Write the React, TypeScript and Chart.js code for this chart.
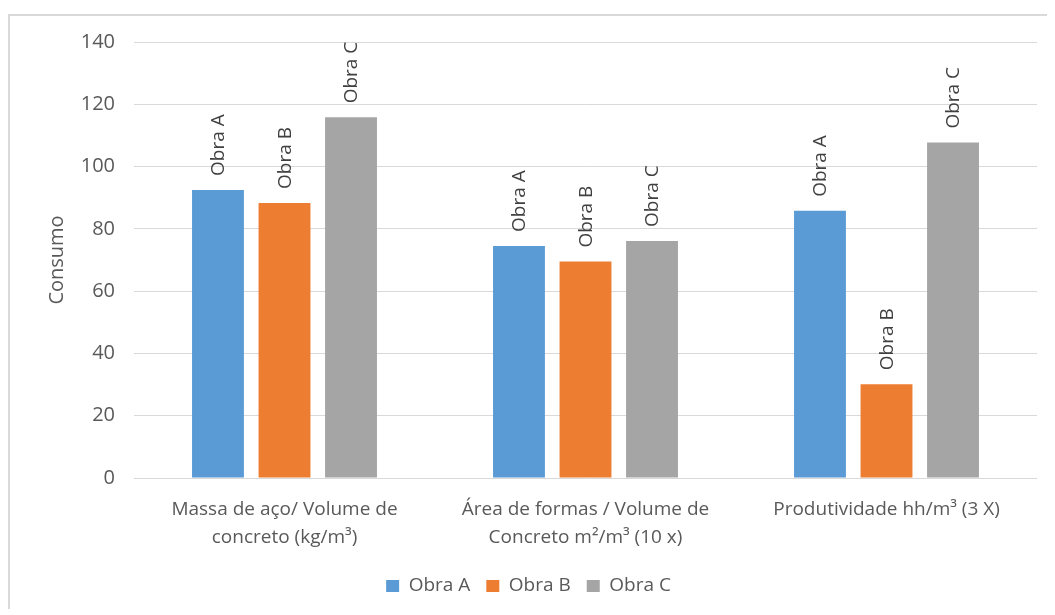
import React, { useEffect, useRef } from "react";
import { Chart, registerables } from "chart.js";

Chart.register(...registerables);

// Categories (multi-line axis labels)
const categories: string[][] = [
  ["Massa de aço/ Volume de", "concreto (kg/m³)"],
  ["Área de formas / Volume de", "Concreto m²/m³ (10 x)"],
  ["Produtividade hh/m³ (3 X)"],
];

const seriesNames = ["Obra A", "Obra B", "Obra C"];
const obraA = [92.5, 74.5, 85.8];
const obraB = [88.3, 69.5, 30.1];
const obraC = [115.8, 76.1, 107.7];

const yMin = 0;
const yMax = 140;
const yStep = 20;

const colors = ["#5B9BD5", "#ED7D31", "#A5A5A5"];
const FONT = "'Open Sans', 'DejaVu Sans', sans-serif";

// Series name written vertically above each bar
const barNameLabels = {
  id: "barNameLabels",
  afterDatasetsDraw(chart: any) {
    const ctx = chart.ctx;
    ctx.save();
    ctx.font = `19px ${FONT}`;
    ctx.fillStyle = "#404040";
    ctx.textAlign = "left";
    ctx.textBaseline = "middle";
    chart.data.datasets.forEach((ds: any, di: number) => {
      const meta = chart.getDatasetMeta(di);
      meta.data.forEach((bar: any) => {
        ctx.save();
        ctx.translate(bar.x + 1, bar.y - 14);
        ctx.rotate(-Math.PI / 2);
        ctx.fillText(ds.label, 0, 0);
        ctx.restore();
      });
    });
    ctx.restore();
  },
};

export default function App() {
  const canvasRef = useRef<HTMLCanvasElement | null>(null);

  useEffect(() => {
    document.body.style.overflow = "hidden";
    const canvas = canvasRef.current;
    if (!canvas) return;
    const values = [obraA, obraB, obraC];
    const chart = new Chart(canvas, {
      type: "bar",
      data: {
        labels: categories,
        datasets: seriesNames.map((name, i) => ({
          label: name,
          data: values[i],
          backgroundColor: colors[i],
          borderWidth: 0,
          categoryPercentage: 0.663,
          barPercentage: 0.78,
        })),
      },
      options: {
        responsive: false,
        animation: false,
        devicePixelRatio: 1,
        layout: { padding: { left: 10, right: 18, top: 26, bottom: 9.5 } },
        plugins: {
          legend: {
            position: "bottom",
            labels: {
              boxWidth: 13,
              boxHeight: 12,
              padding: 16,
              color: "#595959",
              font: { family: FONT, size: 19 },
            },
          },
          tooltip: { enabled: false },
        },
        scales: {
          x: {
            grid: { display: false, drawTicks: false },
            border: { display: false },
            ticks: {
              color: "#595959",
              font: { family: FONT, size: 19, lineHeight: 1.47 },
              padding: 18,
              maxRotation: 0,
              autoSkip: false,
            },
            afterFit: (s: any) => {
              s.height = 82.5;
              s.paddingLeft = 0;
              s.paddingRight = 0;
            },
          },
          y: {
            min: yMin,
            max: yMax,
            grid: { color: "#d9d9d9", lineWidth: 1, drawTicks: false },
            border: { display: false },
            ticks: {
              stepSize: yStep,
              color: "#595959",
              font: { family: FONT, size: 20 },
              padding: 19,
            },
            title: {
              display: true,
              text: "Consumo",
              color: "#595959",
              font: { family: FONT, size: 20 },
              padding: { top: 25.5, bottom: 0 },
            },
            afterFit: (s: any) => {
              s.width = 114;
              s.paddingTop = 0;
              s.paddingBottom = 0;
            },
          },
        },
      },
      plugins: [barNameLabels],
    });
    return () => chart.destroy();
  }, []);

  return (
    <div
      style={{
        position: "relative",
        top: 6,
        width: 1047,
        height: 601,
        boxSizing: "border-box",
        borderTop: "2px solid #d9d9d9",
        borderLeft: "2px solid #d9d9d9",
        background: "#ffffff",
      }}
    >
      <canvas ref={canvasRef} width={1045} height={599} style={{ display: "block" }} />
    </div>
  );
}
